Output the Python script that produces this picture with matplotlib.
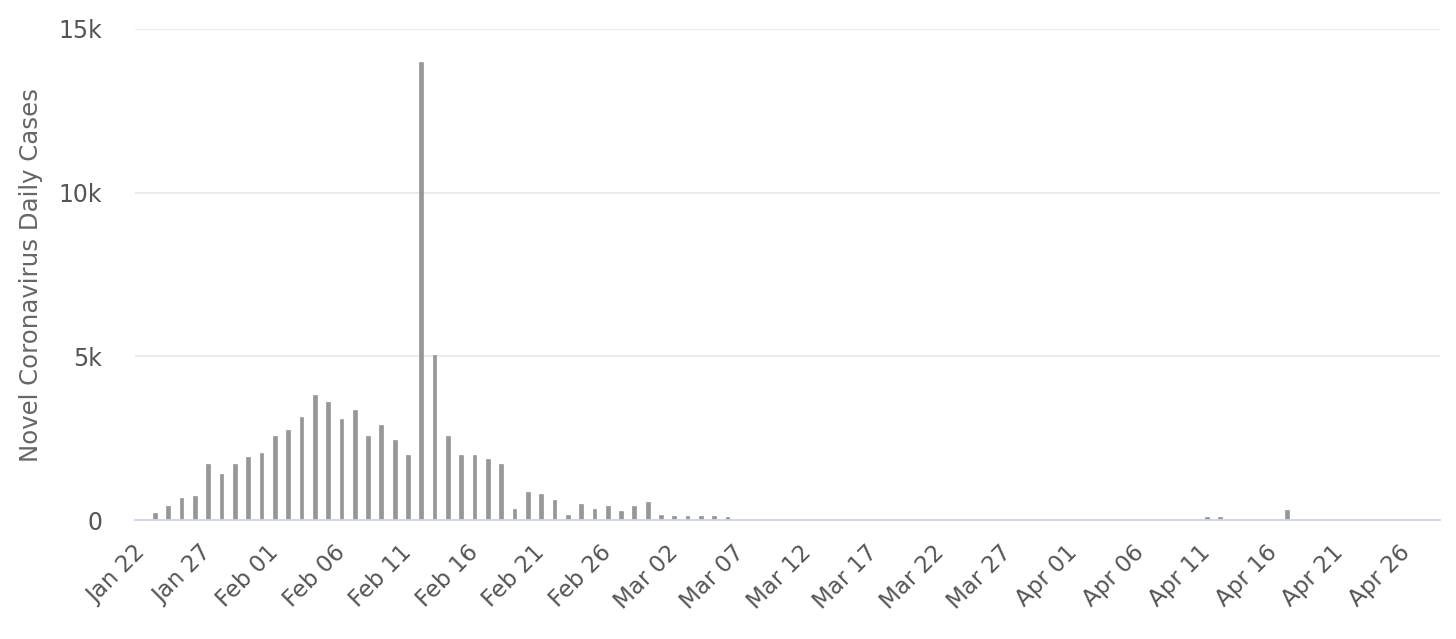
import matplotlib
matplotlib.use("Agg")
import matplotlib.pyplot as plt
import numpy as np
import pandas as pd

start_date = "2020-01-22"
n_days = 98
# daily new cases, Jan 22 .. Apr 28
cases_jan_feb = [
    0, 225, 420, 685, 745, 1710, 1400, 1710, 1915, 2050,          # Jan 22 - Jan 31
    2570, 2760, 3160, 3810, 3620, 3090, 3355, 2570, 2895, 2440,   # Feb 01 - Feb 10
    1980, 14000, 5050, 2570, 1990, 1990, 1855, 1720, 345, 865,    # Feb 11 - Feb 20
    805, 610, 155, 480, 345, 420, 285, 420, 540,                  # Feb 21 - Feb 29
]
cases_march = [150, 110, 110, 120, 120, 95] + [0] * 25            # Mar 01 - Mar 31
cases_april = [0] * 10 + [90, 100, 0, 0, 0, 0, 300] + [0] * 11    # Apr 01 - Apr 28

cases = cases_jan_feb + cases_march + cases_april
dates = pd.date_range(start_date, periods=n_days, freq="D")
labels = [d.strftime("%b %d") for d in dates]

y_ticks = [0, 5000, 10000, 15000]
y_tick_labels = ["0", "5k", "10k", "15k"]

fig = plt.figure(figsize=(14.56, 6.39), dpi=100)
ax = fig.add_axes([135 / 1456, 1 - 520 / 639, (1440 - 135) / 1456, (520 - 29) / 639])

x = np.arange(len(cases))
ax.bar(x, cases, width=0.28, color="#979797", edgecolor="#8a8a8a", linewidth=0.4, zorder=3)

ax.set_xlim(-0.5, len(cases) - 0.5)
ax.set_ylim(0, 15000)
ax.set_yticks(y_ticks)
ax.set_yticklabels(y_tick_labels)
ax.grid(axis="y", color="#e6e6e6", linewidth=1.1, zorder=0)
ax.set_axisbelow(True)

tick_idx = x[::5]
ax.set_xticks(tick_idx)
ax.set_xticklabels([labels[i] for i in tick_idx], rotation=45, ha="right",
                   va="center", rotation_mode="anchor")

for s in ["top", "right", "left"]:
    ax.spines[s].set_visible(False)
ax.spines["bottom"].set_color("#ccd6eb")
ax.spines["bottom"].set_linewidth(1.3)
ax.spines["bottom"].set_zorder(4)

ax.tick_params(axis="x", length=0, pad=21, labelsize=16.5, labelcolor="#555555")
ax.tick_params(axis="y", length=0, pad=23.5, labelsize=17, labelcolor="#555555")

ax.set_ylabel("Novel Coronavirus Daily Cases", fontsize=17.6, color="#666666")
ax.yaxis.set_label_coords(-0.0705, 0.5)

fig.savefig("out.png", dpi=100, facecolor="white")
